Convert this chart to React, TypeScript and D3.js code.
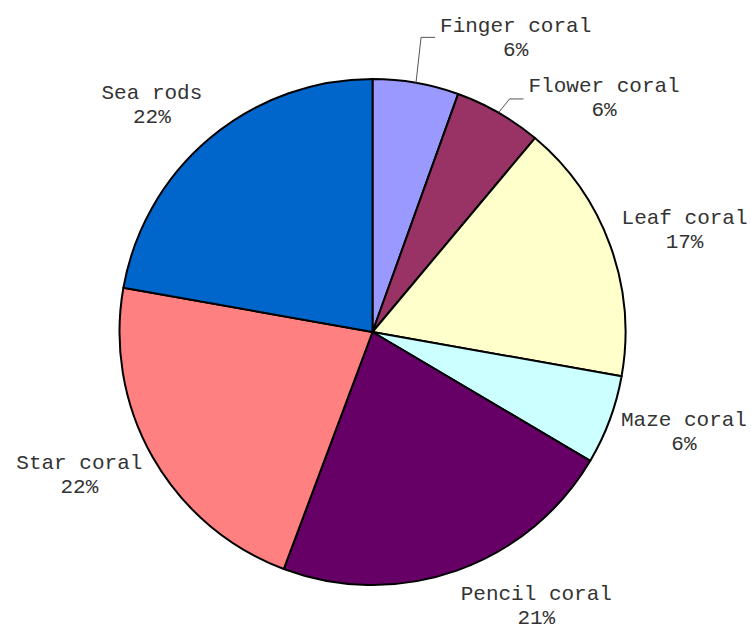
import { useMemo } from "react";
import * as d3 from "d3";

// coral survey shares (%), clockwise from 12 o'clock
const categories = [
  "Finger coral",
  "Flower coral",
  "Leaf coral",
  "Maze coral",
  "Pencil coral",
  "Star coral",
  "Sea rods",
];
const shares = [5.5, 5.6, 16.7, 5.7, 22.2, 22.1, 22.2];
// percentages as printed on the chart
const pctLabels = ["6%", "6%", "17%", "6%", "21%", "22%", "22%"];
const colors = [
  "#9999FF",
  "#993366",
  "#FFFFCC",
  "#CCFFFF",
  "#660066",
  "#FF8080",
  "#0066CC",
];

// labels that were pushed off their default spot (get a leader line)
const labelNudge: Record<string, [number, number]> = {
  "Finger coral": [22, -3],
  "Flower coral": [24, 22],
};

const WIDTH = 751;
const HEIGHT = 629;
const CX = 372.5;
const CY = 332;
const R = 253;
const FONT = 21;
const LINE = 24;
const CHAR_W = FONT * 0.6;

const App = () => {
  const slices = useMemo(() => {
    const pie = d3
      .pie<number>()
      .sort(null)
      .value((d) => d);
    return pie(shares).map((s, i) => ({
      ...s,
      name: categories[i],
      color: colors[i],
      pct: pctLabels[i],
    }));
  }, []);

  const arc = d3.arc<d3.PieArcDatum<number>>().innerRadius(0).outerRadius(R);

  return (
    <svg
      width={WIDTH}
      height={HEIGHT}
      style={{ position: "absolute", left: 0, top: 0, background: "#fff" }}
    >
      <g transform={`translate(${CX},${CY})`}>
        {slices.map((s) => (
          <path
            key={s.name}
            d={arc(s) ?? ""}
            fill={s.color}
            stroke="#000"
            strokeWidth={2}
            strokeLinejoin="round"
          />
        ))}
        {slices.map((s) => {
          const mid = (s.startAngle + s.endAngle) / 2;
          const dx = Math.sin(mid);
          const dy = -Math.cos(mid);
          const px = dx * (R + 12);
          const py = dy * (R + 12);
          const w = Math.max(s.name.length, 4) * CHAR_W;
          const h = LINE * 2;
          let left = dx >= 0 ? px : px - w;
          let cy = py + dy * (h / 2 + 4) - 3;
          const nudge = labelNudge[s.name];
          let leader: string | null = null;
          if (nudge) {
            left += nudge[0];
            cy += nudge[1];
            const ax = dx * R;
            const ay = dy * R;
            const elbowY = cy + (nudge[1] > 0 ? 2 : 0);
            leader = `M${ax},${ay}L${left - 19},${elbowY}L${left - 5},${elbowY}`;
          }
          const tx = left + w / 2;
          return (
            <g key={`lbl-${s.name}`}>
              {leader && (
                <path d={leader} fill="none" stroke="#555" strokeWidth={1} />
              )}
              <text
                x={tx}
                y={cy - 5}
                textAnchor="middle"
                fontFamily="'Liberation Mono', 'Courier New', monospace"
                fontSize={FONT}
                fill="#333"
              >
                <tspan x={tx}>{s.name}</tspan>
                <tspan x={tx} dy={LINE}>{s.pct}</tspan>
              </text>
            </g>
          );
        })}
      </g>
    </svg>
  );
};

export default App;
